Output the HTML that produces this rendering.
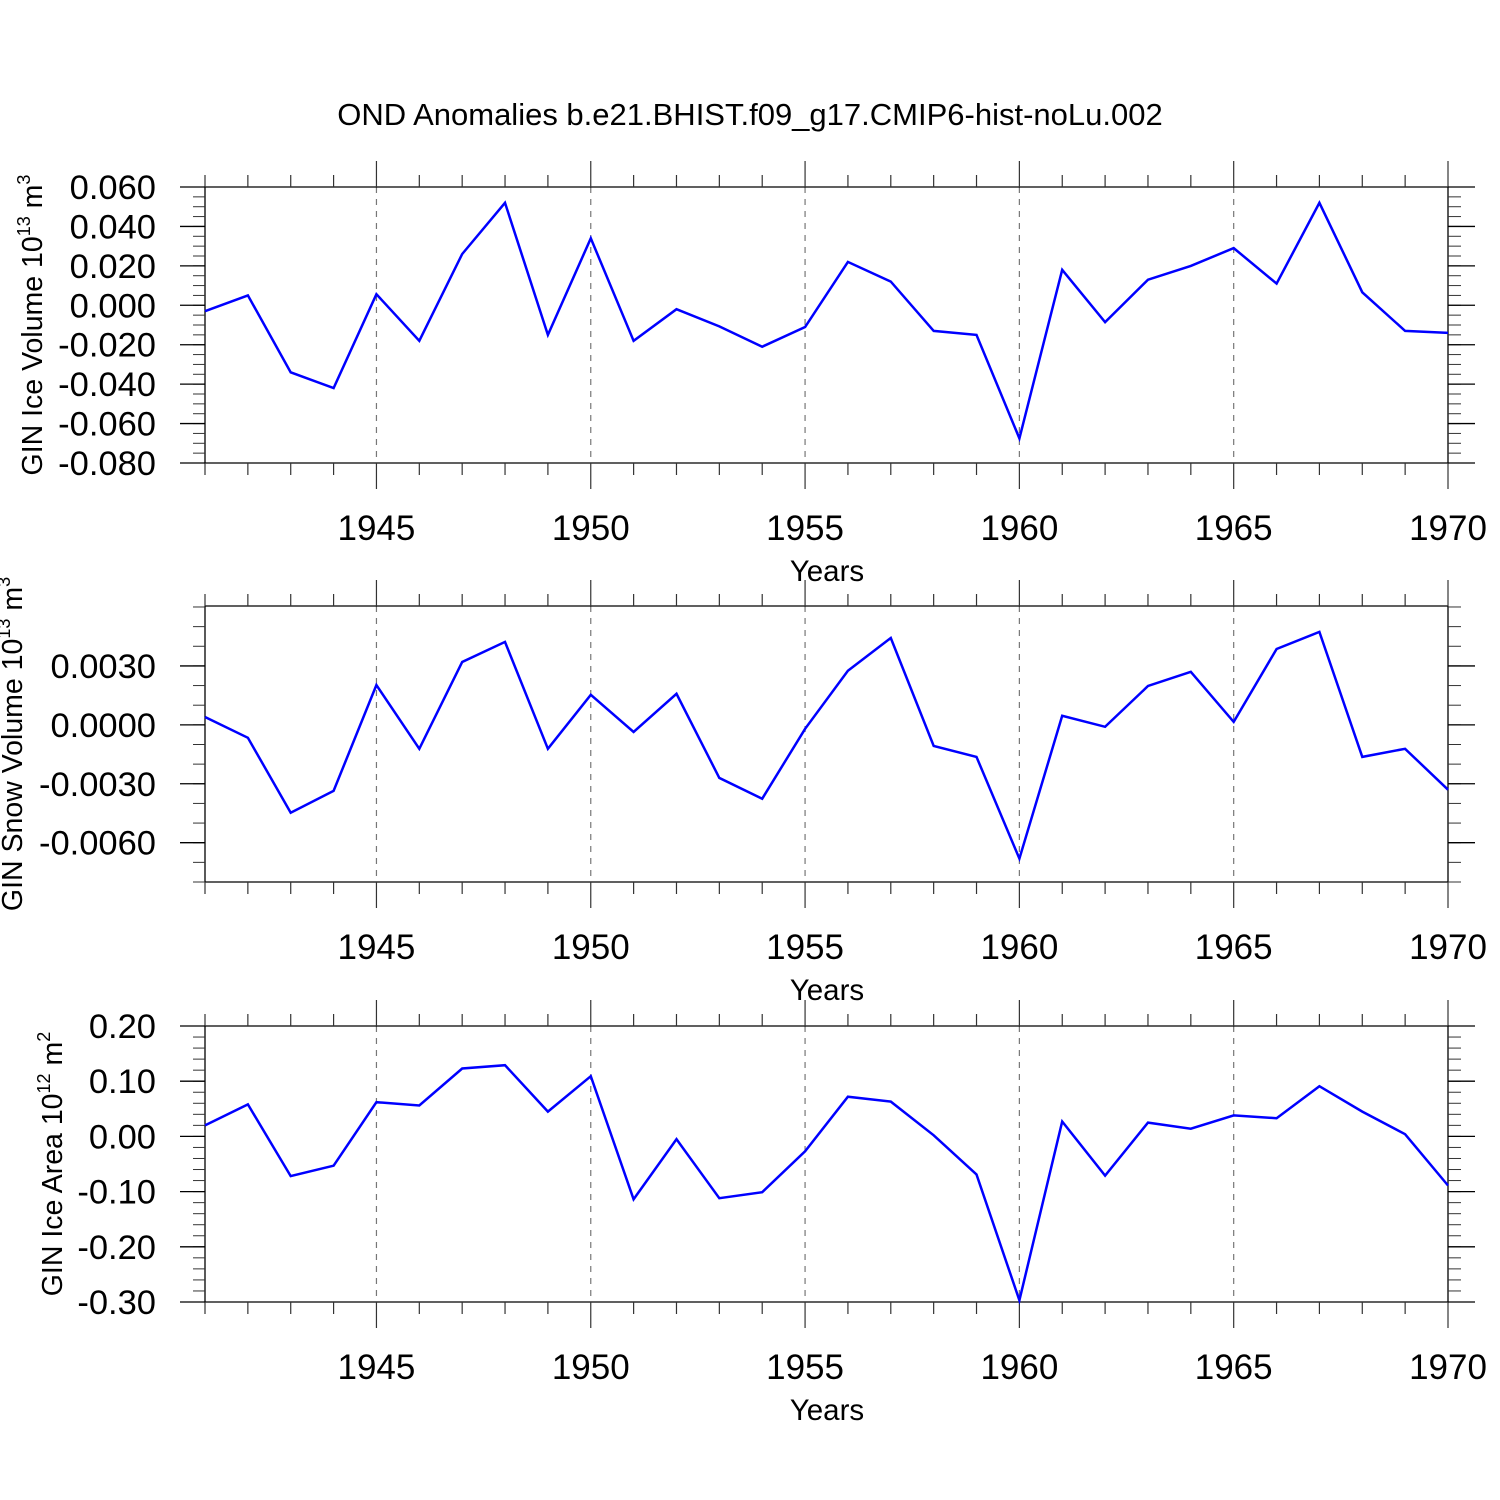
<!DOCTYPE html>
<html><head><meta charset="utf-8"><style>
html,body{margin:0;padding:0;background:#fff;}
svg{display:block;font-family:"Liberation Sans",sans-serif;}
</style></head><body>
<svg id="c" width="1500" height="1500" viewBox="0 0 1500 1500" xmlns="http://www.w3.org/2000/svg">
<rect width="1500" height="1500" fill="#fff"/>
<text x="750" y="125" font-size="31" text-anchor="middle">OND Anomalies b.e21.BHIST.f09_g17.CMIP6-hist-noLu.002</text>
</svg>
<script>
const years = [1941,1942,1943,1944,1945,1946,1947,1948,1949,1950,1951,1952,1953,1954,1955,1956,1957,1958,1959,1960,1961,1962,1963,1964,1965,1966,1967,1968,1969,1970];
const iceVolume = [-0.003,0.005,-0.034,-0.042,0.0056,-0.018,0.026,0.052,-0.015,0.034,-0.018,-0.002,-0.0107,-0.021,-0.011,0.022,0.012,-0.013,-0.015,-0.0675,0.018,-0.0086,0.013,0.020,0.029,0.011,0.052,0.0066,-0.013,-0.014];
const snowVolume = [0.0004,-0.00066,-0.00447,-0.00336,0.00203,-0.00122,0.0032,0.00422,-0.00122,0.00153,-0.00036,0.00158,-0.0027,-0.00376,-0.0002,0.00275,0.00442,-0.00107,-0.00163,-0.00681,0.00046,-0.0001,0.00198,0.0027,0.00015,0.00386,0.00473,-0.00163,-0.00122,-0.0033];
const iceArea = [0.020,0.058,-0.072,-0.053,0.062,0.056,0.123,0.129,0.045,0.109,-0.114,-0.005,-0.112,-0.101,-0.027,0.072,0.063,0.002,-0.069,-0.297,0.027,-0.071,0.025,0.014,0.038,0.033,0.091,0.045,0.004,-0.089];
const xTickLabels = [1945,1950,1955,1960,1965,1970];
const iceVolumeTicks = [0.06,0.04,0.02,0.0,-0.02,-0.04,-0.06,-0.08];
const iceVolumeTickLabels = ["0.060","0.040","0.020","0.000","-0.020","-0.040","-0.060","-0.080"];
const snowTicks = [0.003,0.0,-0.003,-0.006];
const snowTickLabels = ["0.0030","0.0000","-0.0030","-0.0060"];
const areaTicks = [0.2,0.1,0.0,-0.1,-0.2,-0.3];
const areaTickLabels = ["0.20","0.10","0.00","-0.10","-0.20","-0.30"];

const svg = document.getElementById('c');
const NS = 'http://www.w3.org/2000/svg';
function mk(tag, attrs, parent){const e=document.createElementNS(NS,tag);for(const k in attrs)e.setAttribute(k,attrs[k]);(parent||svg).appendChild(e);return e;}
const X0=205, X1=1448;
function xs(yr){return X0+(yr-1941)/(1970-1941)*(X1-X0);}

function panel(name, top, bot, ymin, ymax, minorStep, ticks, labels, values, titleX, titleHTML){
  const g = mk('g',{});
  
  
  const ys = v => bot-(v-ymin)/(ymax-ymin)*(bot-top);
  for(let yr=1945; yr<=1965; yr+=5){
    const l = mk('line',{x1:xs(yr),x2:xs(yr),y1:top,y2:bot,stroke:'#777','stroke-width':1.2,'stroke-dasharray':'6,6'},g);
    
    
  }
  mk('line',{x1:X0,x2:X0,y1:top,y2:bot,stroke:'#000','stroke-width':1.3},g);
  mk('line',{x1:X1,x2:X1,y1:top,y2:bot,stroke:'#000','stroke-width':1.3},g);
  mk('line',{x1:X0,x2:X1,y1:top,y2:top,stroke:'#000','stroke-width':1.3},g);
  mk('line',{x1:X0,x2:X1,y1:bot,y2:bot,stroke:'#000','stroke-width':1.3},g);
  for(let yr=1941; yr<=1970; yr++){
    const major = yr%5===0; const L = major?26:12;
    mk('line',{x1:xs(yr),x2:xs(yr),y1:bot,y2:bot+L,stroke:'#333','stroke-width':1.2},g);
    mk('line',{x1:xs(yr),x2:xs(yr),y1:top,y2:top-L,stroke:'#333','stroke-width':1.2},g);
  }
  const n = Math.round((ymax-ymin)/minorStep);
  for(let i=0;i<=n;i++){
    const y = ys(ymin+i*minorStep);
    mk('line',{x1:X0-12,x2:X0,y1:y,y2:y,stroke:'#333','stroke-width':1},g);
    mk('line',{x1:X1,x2:X1+13,y1:y,y2:y,stroke:'#333','stroke-width':1},g);
  }
  ticks.forEach((t,i)=>{
    const y = ys(t);
    mk('line',{x1:180,x2:X0,y1:y,y2:y,stroke:'#000','stroke-width':1.3},g);
    mk('line',{x1:X1,x2:1475,y1:y,y2:y,stroke:'#000','stroke-width':1.3},g);
    const tx = mk('text',{x:156,y:y+12,'font-size':34.5,'text-anchor':'end'},g);
    tx.textContent = labels[i];
    
    
  });
  xTickLabels.forEach(yr=>{
    const tx = mk('text',{x:xs(yr),y:bot+77,'font-size':35,'text-anchor':'middle'},g);
    tx.textContent = yr;
    
    
  });
  const xt = mk('text',{x:827,y:bot+118,'font-size':29.5,'text-anchor':'middle'},g);
  xt.textContent='Years';
  
  
  const yt = mk('text',{x:0,y:0,'font-size':28.5,'text-anchor':'middle',transform:`translate(${titleX},${(top+bot)/2}) rotate(-90)`},g);
  yt.innerHTML = titleHTML;
  
  
  const pts = values.map((v,i)=>xs(years[i]).toFixed(1)+','+ys(v).toFixed(1)).join(' ');
  const pl = mk('polyline',{points:pts,fill:'none',stroke:'#0000ff','stroke-width':2.5,'stroke-linejoin':'miter'},g);
  
  
}
panel('ice-volume',187,463,-0.08,0.06,0.005,iceVolumeTicks,iceVolumeTickLabels,iceVolume,42,
 'GIN Ice Volume 10<tspan font-size="18" dy="-12">13</tspan><tspan dy="12"> m</tspan><tspan font-size="18" dy="-12">3</tspan>');
panel('snow-volume',606,882,-0.008,0.00605,0.001,snowTicks,snowTickLabels,snowVolume,22,
 'GIN Snow Volume 10<tspan font-size="18" dy="-12">13</tspan><tspan dy="12"> m</tspan><tspan font-size="18" dy="-12">3</tspan>');
panel('ice-area',1026,1302,-0.3,0.2,0.02,areaTicks,areaTickLabels,iceArea,62,
 'GIN Ice Area 10<tspan font-size="18" dy="-12">12</tspan><tspan dy="12"> m</tspan><tspan font-size="18" dy="-12">2</tspan>');
</script>
</body></html>
